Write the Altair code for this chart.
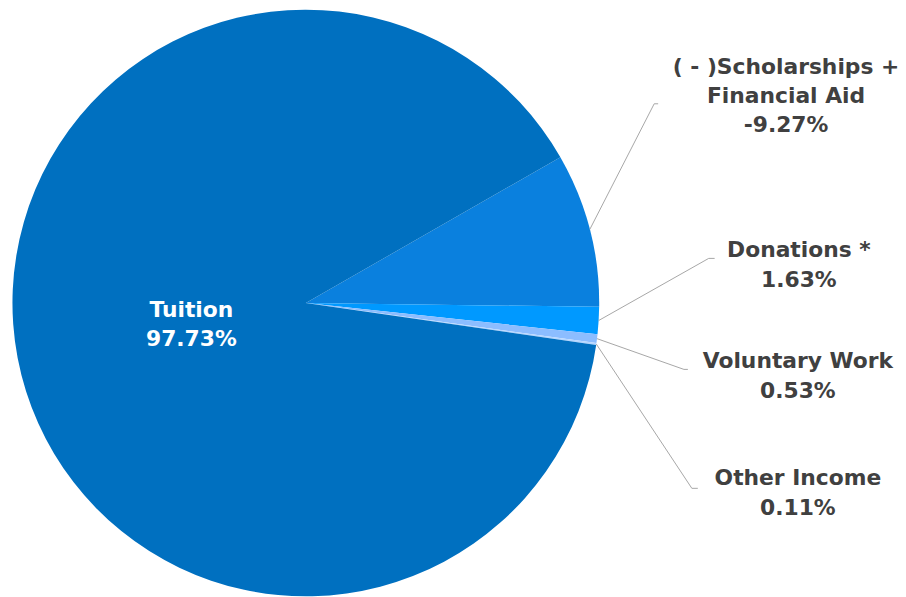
import math
import altair as alt
import pandas as pd

# ---- data ----
categories = ["( - )Scholarships + Financial Aid", "Donations *", "Voluntary Work", "Other Income", "Tuition"]
label_names = ["( - )Scholarships +\nFinancial Aid", "Donations *", "Voluntary Work", "Other Income", "Tuition"]
values = [-9.27, 1.63, 0.53, 0.11, 97.73]

# ---- styles / layout ----
colors = ["#0A80DE", "#0099FF", "#8CBDFF", "#B5D6FF", "#0070C0"]
text_colors = ["#404040", "#404040", "#404040", "#404040", "#FFFFFF"]
W, H = 898, 589
CX, CY, R = 300.5, 295.0, 296.0
START = math.radians(60.2)
label_x = [785, 798, 797, 797, 185]
label_y = [63.5, 249, 361, 479, 309]
elbow_x = [652, 707, 682, 690, None]
elbow_y = [94, 250, 362, 482, None]
tail_len = [4, 6, 4, 6, None]
FONT = "DejaVu Sans"

df = pd.DataFrame({
    "category": categories,
    "label": [n + "\n" + f"{v:.2f}%" for n, v in zip(label_names, values)],
    "value": values,
    "absval": [abs(v) for v in values],
    "order": list(range(len(categories))),
    "lx": label_x,
    "ly": label_y,
    "ex": elbow_x,
    "ey": elbow_y,
    "tail": tail_len,
    "tcolor": text_colors,
})

base = alt.Chart(df)

pie = base.mark_arc(radius=R).encode(
    theta=alt.Theta("absval:Q", stack=True,
                    scale=alt.Scale(range=[START, START + 2 * math.pi])),
    order=alt.Order("order:Q"),
    color=alt.Color("category:N", scale=alt.Scale(domain=categories, range=colors), legend=None),
    x=alt.value(CX),
    y=alt.value(CY),
)

lines_base = base.transform_joinaggregate(
    total="sum(absval)"
).transform_window(
    cum="sum(absval)", sort=[alt.SortField("order", order="ascending")], frame=[None, 0]
).transform_calculate(
    mid=f"{START} + 2*PI*(datum.cum - datum.absval/2)/datum.total",
).transform_calculate(
    x0=f"{CX} + {R}*sin(datum.mid)",
    y0=f"{CY} - {R}*cos(datum.mid)",
    ex2="datum.ex + datum.tail",
).transform_filter("isValid(datum.ex)")

leader = lines_base.mark_rule(color="#A6A6A6", strokeWidth=1).encode(
    x=alt.X("x0:Q", scale=None, axis=None),
    y=alt.Y("y0:Q", scale=None, axis=None),
    x2="ex:Q",
    y2="ey:Q",
)
leader_tail = lines_base.mark_rule(color="#A6A6A6", strokeWidth=1).encode(
    x=alt.X("ex:Q", scale=None, axis=None),
    y=alt.Y("ey:Q", scale=None, axis=None),
    x2="ex2:Q",
)

labels = base.mark_text(
    font=FONT, fontSize=22, fontWeight="bold", align="center", baseline="alphabetic",
    lineBreak="\n", lineHeight=29.5,
).encode(
    x=alt.X("lx:Q", scale=None, axis=None),
    y=alt.Y("ly:Q", scale=None, axis=None),
    text="label:N",
    color=alt.Color("tcolor:N", scale=None),
)

chart = alt.layer(pie, leader, leader_tail, labels).properties(
    width=W, height=H, padding=0, autosize=alt.AutoSizeParams(type="none")
).configure_view(stroke=None)

chart.save("out.html", embed_options={"renderer": "svg", "actions": False})
